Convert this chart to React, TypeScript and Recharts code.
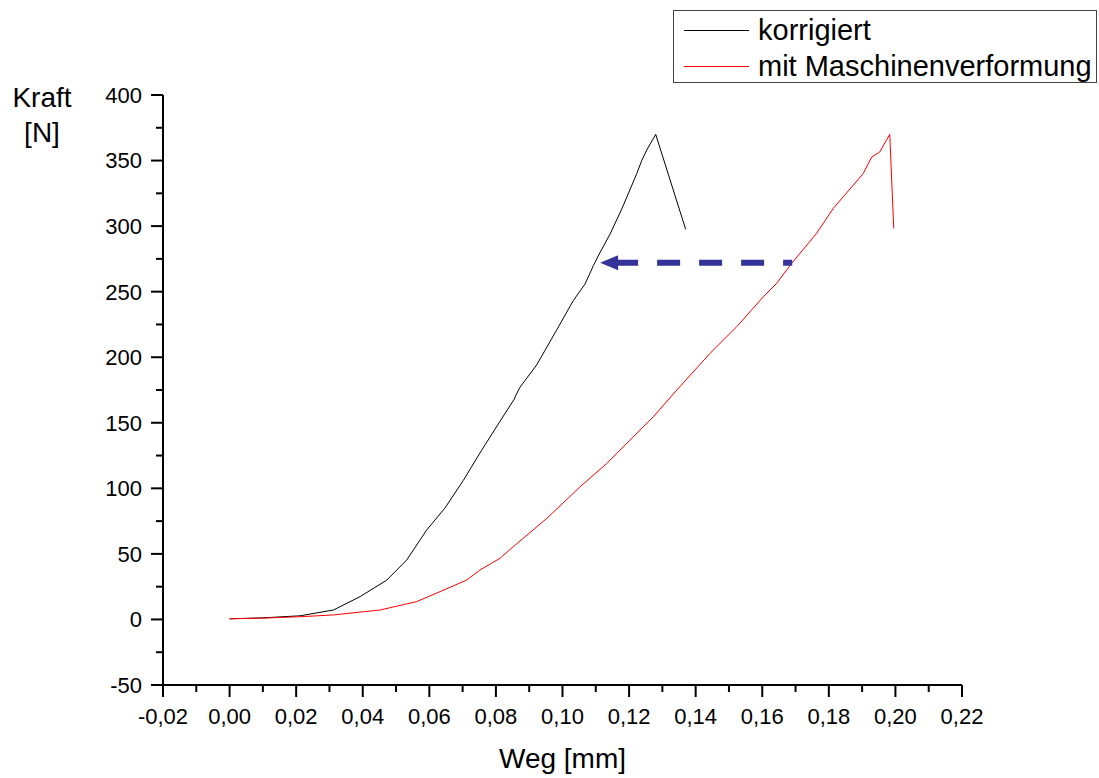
import React from "react";
import {
  LineChart,
  Line,
  XAxis,
  YAxis,
  ReferenceLine,
  Label,
} from "recharts";

// korrigiert (black)
const korrWeg: number[] = [
  0, 0.01, 0.0212, 0.0312, 0.0392, 0.0472, 0.0532, 0.0592, 0.0647, 0.0702,
  0.0757, 0.0812, 0.0855, 0.086, 0.0872, 0.0922, 0.0947, 0.0983, 0.1032,
  0.1068, 0.1093, 0.1113, 0.1143, 0.1178, 0.1223, 0.1238, 0.1253, 0.128, 0.137,
];
const korrKraft: number[] = [
  0.5, 1.2, 2.8, 7.2, 17.4, 30, 45.3, 68.2, 85, 106, 129, 151, 168, 171, 177,
  194, 205, 221, 243, 256, 270, 280, 294, 313, 340, 350, 358, 370, 297.5,
];

// mit Maschinenverformung (red)
const maschWeg: number[] = [
  0, 0.01, 0.0212, 0.031, 0.0452, 0.0562, 0.0632, 0.0712, 0.0752, 0.0812,
  0.0852, 0.0953, 0.1053, 0.1133, 0.1203, 0.1273, 0.1343, 0.1443, 0.1523,
  0.1603, 0.1643, 0.1688, 0.1763, 0.1813, 0.1843, 0.1903, 0.1929, 0.1953,
  0.1983, 0.1995,
];
const maschKraft: number[] = [
  0.5, 1, 2.1, 3.4, 7.2, 13.6, 21.2, 30, 37.7, 46.6, 55.5, 77.1, 101.2, 119,
  136.8, 154.6, 174.9, 202.9, 223.2, 246, 256.3, 271.5, 294.4, 313.4, 322.3,
  340, 352.7, 356.6, 370, 298.2,
];

// arrow (shift by machine deformation)
const arrowKraft = 272;
const arrowFrom = 0.169;
const arrowTo = 0.1113;

const xTicks: number[] = [
  -0.02, -0.01, 0, 0.01, 0.02, 0.03, 0.04, 0.05, 0.06, 0.07, 0.08, 0.09, 0.1,
  0.11, 0.12, 0.13, 0.14, 0.15, 0.16, 0.17, 0.18, 0.19, 0.2, 0.21, 0.22,
];
const yTicks: number[] = [
  -50, -25, 0, 25, 50, 75, 100, 125, 150, 175, 200, 225, 250, 275, 300, 325,
  350, 375, 400,
];

const korrData = korrWeg.map((x, i) => ({ x, y: korrKraft[i] }));
const maschData = maschWeg.map((x, i) => ({ x, y: maschKraft[i] }));

const FONT = "'Liberation Sans', Arial, sans-serif";

const XTick = (props: any) => {
  const { x, y, payload } = props;
  const v: number = payload.value;
  const major = Math.round(v * 100) % 2 === 0;
  return (
    <g>
      <line x1={x} y1={y} x2={x} y2={y + (major ? 12 : 7)} stroke="#000" strokeWidth={2} />
      {major && (
        <text x={x} y={y + 39} textAnchor="middle" fontSize={22} fontFamily={FONT} fill="#000">
          {v.toFixed(2).replace(".", ",")}
        </text>
      )}
    </g>
  );
};

const YTick = (props: any) => {
  const { x, y, payload } = props;
  const v: number = payload.value;
  const major = v % 50 === 0;
  return (
    <g>
      <line x1={x} y1={y} x2={x - (major ? 12 : 7)} y2={y} stroke="#000" strokeWidth={2} />
      {major && (
        <text x={x - 21} y={y} dy="0.36em" textAnchor="end" fontSize={22} fontFamily={FONT} fill="#000">
          {v}
        </text>
      )}
    </g>
  );
};

const ArrowShape = (props: any) => {
  const { x1, y1, x2 } = props;
  const left = Math.min(x1, x2);
  const right = Math.max(x1, x2);
  const y = y1;
  return (
    <g>
      <line
        x1={left + 17}
        y1={y}
        x2={right}
        y2={y}
        stroke="#333399"
        strokeWidth={6}
        strokeDasharray="21 19 23 19 23 19 23 19"
      />
      <polygon
        points={`${left},${y} ${left + 18},${y - 7.5} ${left + 18},${y + 7.5}`}
        fill="#333399"
      />
    </g>
  );
};

const legendItems = [
  { name: "korrigiert", color: "#000" },
  { name: "mit Maschinenverformung", color: "#ff0000" },
];

const App = () => {
  return (
    <div style={{ position: "absolute", left: 0, top: 0, width: 1099, height: 778, background: "#fff" }}>
      <LineChart
        width={1099}
        height={778}
        margin={{ top: 95, right: 137, left: 0, bottom: 0 }}
      >
        <XAxis
          type="number"
          dataKey="x"
          domain={[-0.02, 0.22]}
          ticks={xTicks}
          interval={0}
          height={93}
          tickSize={0}
          tickMargin={0}
          tickLine={false}
          tick={<XTick />}
          axisLine={{ stroke: "#000", strokeWidth: 2 }}
          allowDataOverflow
        >
          <Label
            value="Weg [mm]"
            position="insideBottom"
            offset={10}
            fontSize={28}
            fontFamily={FONT}
            fill="#000"
          />
        </XAxis>
        <YAxis
          type="number"
          dataKey="y"
          domain={[-50, 400]}
          ticks={yTicks}
          interval={0}
          width={163}
          tickSize={0}
          tickMargin={0}
          tickLine={false}
          tick={<YTick />}
          axisLine={{ stroke: "#000", strokeWidth: 2 }}
          allowDataOverflow
        >
          <Label
            content={() => (
              <text textAnchor="middle" fontSize={28} fontFamily={FONT} fill="#000">
                <tspan x={42} y={107}>Kraft</tspan>
                <tspan x={42} y={142}>[N]</tspan>
              </text>
            )}
          />
        </YAxis>
        <Line
          data={korrData}
          dataKey="y"
          type="linear"
          stroke="#000"
          strokeWidth={1}
          dot={false}
          isAnimationActive={false}
        />
        <Line
          data={maschData}
          dataKey="y"
          type="linear"
          stroke="#ff0000"
          strokeWidth={1}
          dot={false}
          isAnimationActive={false}
        />
        <ReferenceLine
          segment={[
            { x: arrowFrom, y: arrowKraft },
            { x: arrowTo, y: arrowKraft },
          ]}
          shape={<ArrowShape />}
        />
      </LineChart>
      <div
        style={{
          position: "absolute",
          left: 673,
          top: 10,
          width: 422,
          height: 71,
          border: "1.5px solid #444",
          fontFamily: FONT,
          fontSize: 29,
        }}
      >
        {legendItems.map((it, i) => (
          <div
            key={it.name}
            style={{ position: "absolute", left: 0, top: 3 + i * 36, height: 32, display: "flex", alignItems: "center" }}
          >
            <div style={{ width: 65, height: 1, background: it.color, marginLeft: 10, marginRight: 9 }} />
            <span style={{ whiteSpace: "nowrap", lineHeight: "32px" }}>{it.name}</span>
          </div>
        ))}
      </div>
    </div>
  );
};

export default App;
